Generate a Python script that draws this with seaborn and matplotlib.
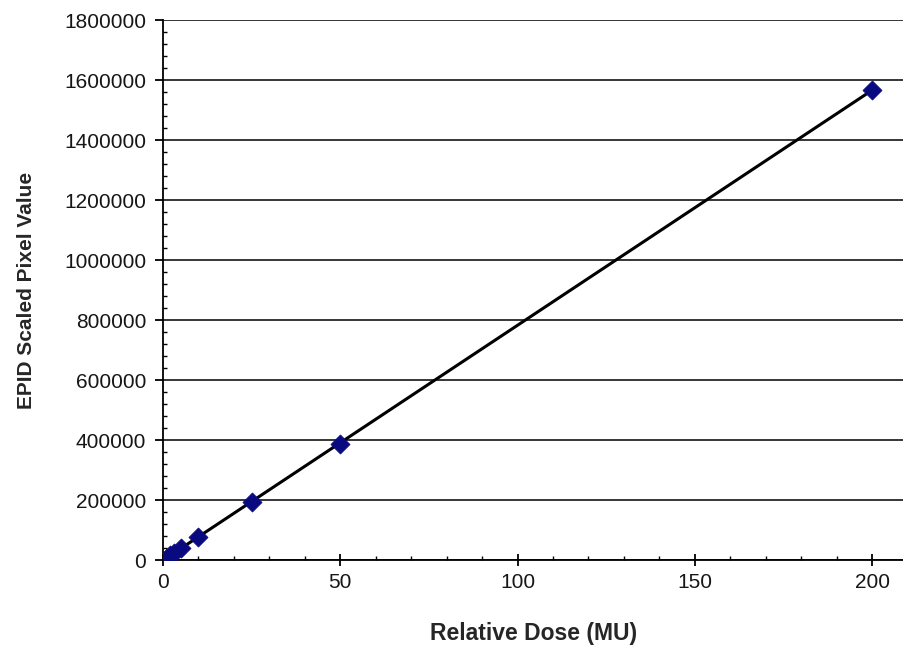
import numpy as np
import pandas as pd
import matplotlib
matplotlib.use("Agg")
import matplotlib.pyplot as plt
import seaborn as sns
from matplotlib.ticker import MultipleLocator, FuncFormatter

# Measured EPID response versus delivered monitor units
dose_mu = [1, 2, 3, 5, 10, 25, 50, 200]
pixel_value = [7800, 15600, 23500, 39000, 78000, 193000, 387000, 1567000]

x_ticks = [0, 50, 100, 150, 200]
y_ticks = list(range(0, 1800001, 200000))

sns.set_theme(style="white")
plt.rcParams["font.family"] = ["Liberation Sans", "DejaVu Sans"]

df = pd.DataFrame({"dose": dose_mu, "pixel": pixel_value})

fig = plt.figure(figsize=(9.04, 6.56), dpi=100)
ax = fig.add_axes([163 / 904, 1 - 560 / 656, 1 - 163 / 904, (560 - 20) / 656])

# horizontal gridlines
ax.set_axisbelow(True)
ax.yaxis.grid(True, color="black", linewidth=1.1)
ax.xaxis.grid(False)

# linear trendline through the measurements
slope, intercept = np.polyfit(df["dose"], df["pixel"], 1)
fit = pd.DataFrame({"dose": [0, 200]})
fit["pixel"] = slope * fit["dose"] + intercept
sns.lineplot(data=fit, x="dose", y="pixel", ax=ax, color="black", linewidth=2.2, zorder=3)

sns.scatterplot(data=df, x="dose", y="pixel", ax=ax, marker="D", s=95,
                color="#0a0a80", edgecolor="#0a0a80", linewidth=0.5, zorder=4)

ax.set_xlim(0, 209)
ax.set_ylim(0, 1800000)
ax.set_xticks(x_ticks)
ax.set_yticks(y_ticks)
ax.xaxis.set_minor_locator(MultipleLocator(10))
ax.yaxis.set_minor_locator(MultipleLocator(40000))
ax.yaxis.set_major_formatter(FuncFormatter(lambda v, p: f"{int(v)}"))

for side in ["top", "right"]:
    ax.spines[side].set_visible(False)
for side in ["left", "bottom"]:
    ax.spines[side].set_color("black")
    ax.spines[side].set_linewidth(1.3)

ax.tick_params(axis="x", which="major", direction="inout", length=8, width=1.3,
               color="black", labelsize=15, labelcolor="#161616", pad=5, bottom=True)
ax.tick_params(axis="x", which="minor", direction="in", length=3, width=1,
               color="black", bottom=True)
ax.tick_params(axis="y", which="major", direction="out", length=6, width=1.3,
               color="black", labelsize=15, labelcolor="#161616", pad=6, left=True)
ax.tick_params(axis="y", which="minor", direction="in", length=3, width=1,
               color="black", left=True)

ax.set_xlabel("Relative Dose (MU)", fontsize=16.5, fontweight="bold", labelpad=22)
ax.set_ylabel("EPID Scaled Pixel Value", fontsize=15, fontweight="bold", labelpad=20)

fig.savefig("out.png", dpi=100)
